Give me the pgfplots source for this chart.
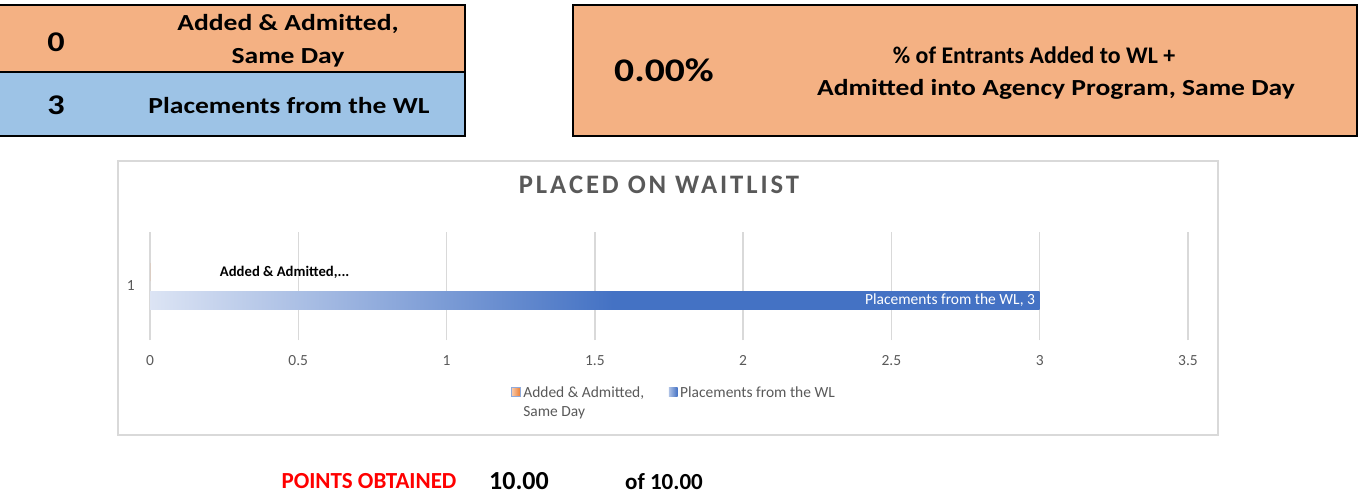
\documentclass[border=0pt]{standalone}
\usepackage{pgfplots}
\pgfplotsset{compat=1.18}
\usepackage{fontspec}
\setmainfont{Carlito}
\newfontfamily\cellfont{Carlito}[FakeStretch=1.2]
\newfontfamily\titlefont{Carlito}[LetterSpace=11]
\definecolor{boxorange}{HTML}{F4B183}
\definecolor{boxblue}{HTML}{9DC3E6}
\definecolor{gridgray}{HTML}{D9D9D9}
\definecolor{txtgray}{HTML}{595959}
\definecolor{barblue}{HTML}{4472C4}
\definecolor{barlight}{HTML}{DCE4F4}
\definecolor{legorange}{HTML}{ED7D31}
\definecolor{legorangelight}{HTML}{F8CBAD}
\definecolor{legborder}{HTML}{8FAADC}
\pgfdeclarehorizontalshading{placeshade}{100bp}{color(0bp)=(barlight); color(25bp)=(barlight); color(51bp)=(barblue); color(100bp)=(barblue)}
\begin{document}
\begin{tikzpicture}
\begin{scope}[x=0.75pt,y=-0.75pt]
\path[use as bounding box] (0,0) rectangle (1362,496);
% ---- left boxes
\fill[boxorange] (0,5) rectangle (465,72);
\fill[boxblue] (0,72) rectangle (465,136);
\draw[line width=1.6pt] (0,5) -- (465,5) -- (465,136) -- (0,136);
\draw[line width=1.6pt] (0,72) -- (465,72);
\node[anchor=base, font=\cellfont\bfseries\fontsize{21.4}{24}\selectfont] at (56,51) {0};
\node[anchor=base, font=\cellfont\bfseries\fontsize{21.4}{24}\selectfont] at (56,114) {3};
\node[anchor=base, font=\cellfont\bfseries\fontsize{17.25}{20}\selectfont] at (288,31) {Added \& Admitted,};
\node[anchor=base, font=\cellfont\bfseries\fontsize{17.25}{20}\selectfont] at (288,63) {Same Day};
\node[anchor=base, font=\cellfont\bfseries\fontsize{17.25}{20}\selectfont] at (289,113) {Placements from the WL};
% ---- right box
\fill[boxorange] (573,5) rectangle (1357,136);
\draw[line width=1.6pt] (573,5) rectangle (1357,136);
\node[anchor=base, font=\cellfont\bfseries\fontsize{24.75}{28}\selectfont] at (664,81) {0.00\%};
\node[anchor=base, font=\bfseries\fontsize{17.9}{20}\selectfont] at (1034,63) {\% of Entrants Added to WL +};
\node[anchor=base, font=\cellfont\bfseries\fontsize{17.25}{20}\selectfont] at (1056,95) {Admitted into Agency Program, Same Day};
% ---- chart frame and title
\draw[gridgray, line width=0.8pt] (118,161) rectangle (1218,435);
\node[anchor=base, text=txtgray, font=\titlefont\bfseries\fontsize{20}{23}\selectfont] at (659,193) {PLACED ON WAITLIST};
% ---- bottom line
\node[anchor=base, text=red, font=\bfseries\fontsize{17.25}{20}\selectfont] at (369,488) {POINTS OBTAINED};
\node[anchor=base, font=\bfseries\fontsize{19.5}{22}\selectfont] at (519,489) {10.00};
\node[anchor=base, font=\bfseries\fontsize{17.25}{20}\selectfont] at (664,489) {of 10.00};
\end{scope}
\begin{axis}[
  at={(112.5pt,-255pt)}, anchor=south west,
  scale only axis, width=778.5pt, height=81pt,
  xmin=0, xmax=3.5, ymin=0.5, ymax=1.5,
  xtick={0,0.5,1,1.5,2,2.5,3,3.5}, ytick={1},
  xmajorgrids, major grid style={gridgray, line width=1.1pt},
  extra x ticks={0}, extra x tick labels={},
  extra x tick style={grid style={gridgray, line width=2.4pt}},
  axis line style={draw=none}, tick style={draw=none}, major tick length=0pt,
  ticklabel style={font=\fontsize{11.6}{13}\selectfont, text=txtgray},
  /pgf/number format/assume math mode=true,
  xticklabel shift=8pt, yticklabel shift=8pt,
  xbar, bar width=13.5pt,
  legend style={draw=none, fill=none, at={(0.344,-0.38)}, anchor=north west,
    font=\fontsize{11.6}{14}\selectfont, text=txtgray,
    /tikz/every even column/.append style={column sep=16.5pt}},
  legend columns=2, legend cell align=left,
]
\addplot[draw=none, fill=legorange, bar shift=10.5pt,
  nodes near coords={\textbf{Added \& Admitted,...}},
  nodes near coords style={anchor=center, xshift=101pt, text=black, font=\fontsize{11}{13}\selectfont},
  legend image code/.code={\draw[draw=legborder, line width=0.5pt, left color=legorangelight, right color=legorange] (0pt,-2.5pt) rectangle (6.5pt,4pt);}
] coordinates {(0,1)};
\addlegendentry{\vtop{\hbox{Added \& Admitted,}\hbox{Same Day}}}
\addplot[draw=none, shade, shading=placeshade, bar shift=-10.5pt,
  nodes near coords={Placements from the WL, \pgfmathprintnumber{\pgfplotspointmeta}},
  nodes near coords style={anchor=east, text=white, font=\fontsize{11.6}{13}\selectfont},
  legend image code/.code={\shade[left color=barlight!70!barblue, right color=barblue] (0pt,-2.5pt) rectangle (6.5pt,4pt);}
] coordinates {(3,1)};
\addlegendentry{Placements from the WL}
\end{axis}
\end{tikzpicture}
\end{document}
